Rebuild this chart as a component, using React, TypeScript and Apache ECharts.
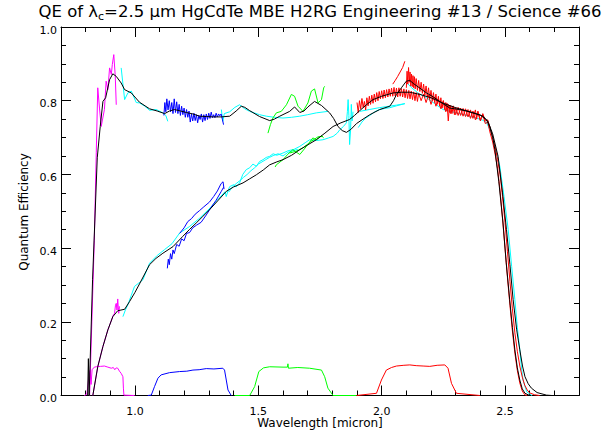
import React, { useEffect, useRef } from "react";
import * as echarts from "echarts";

type P = [number, number];

// ---------- tick values ----------
const xLabelTicks = [1.0, 1.5, 2.0, 2.5];
const xMinorTicks = [0.8, 0.9, 1.1, 1.2, 1.3, 1.4, 1.6, 1.7, 1.8, 1.9, 2.1, 2.2, 2.3, 2.4, 2.6, 2.7];
const yLabelTicks = [0, 0.2, 0.4, 0.6, 0.8, 1.0];
const yMinorTicks = [0.05, 0.1, 0.15, 0.25, 0.3, 0.35, 0.45, 0.5, 0.55, 0.65, 0.7, 0.75, 0.85, 0.9, 0.95];

// ---------- black: smoothed QE curves ----------
const qeUpper: P[] = [
  [0.808, 0], [0.811, 0.1], [0.814, 0], [0.816, 0], [0.828, 0.314], [0.847, 0.645], [0.859, 0.73],
  [0.87, 0.798], [0.881, 0.808], [0.897, 0.857], [0.91, 0.873], [0.924, 0.866], [0.944, 0.848],
  [0.958, 0.83], [0.985, 0.821], [1.018, 0.796], [1.059, 0.778], [1.09, 0.772], [1.12, 0.765],
  [1.14, 0.772], [1.16, 0.776], [1.185, 0.772], [1.208, 0.768], [1.235, 0.764], [1.262, 0.758],
  [1.29, 0.757], [1.315, 0.756], [1.35, 0.756], [1.384, 0.758], [1.41, 0.772], [1.431, 0.785],
  [1.445, 0.782], [1.465, 0.773], [1.505, 0.757], [1.546, 0.746], [1.565, 0.75], [1.587, 0.758],
  [1.627, 0.771], [1.647, 0.783], [1.668, 0.768], [1.685, 0.772], [1.701, 0.783], [1.728, 0.798],
  [1.756, 0.787], [1.789, 0.767], [1.805, 0.752], [1.823, 0.73], [1.84, 0.719], [1.857, 0.714],
  [1.875, 0.722], [1.898, 0.738], [1.92, 0.748], [1.952, 0.762], [1.992, 0.776], [2.033, 0.785],
  [2.048, 0.8], [2.06, 0.817], [2.08, 0.835], [2.1, 0.853], [2.114, 0.855], [2.13, 0.846],
  [2.155, 0.834], [2.182, 0.821], [2.21, 0.81], [2.235, 0.798], [2.276, 0.78], [2.316, 0.776],
  [2.345, 0.772], [2.371, 0.767], [2.411, 0.758], [2.425, 0.748], [2.438, 0.73], [2.45, 0.7],
  [2.459, 0.667], [2.475, 0.58], [2.492, 0.468], [2.505, 0.36], [2.519, 0.26], [2.53, 0.185],
  [2.54, 0.124], [2.55, 0.075], [2.56, 0.042], [2.57, 0.018], [2.581, 0.006], [2.6, 0],
];
const qeLower: P[] = [
  [0.829, 0], [0.849, 0.078], [0.87, 0.133], [0.89, 0.178], [0.91, 0.214], [0.93, 0.23],
  [0.958, 0.234], [0.978, 0.255], [1.0, 0.28], [1.02, 0.305], [1.059, 0.355], [1.085, 0.372],
  [1.113, 0.386], [1.154, 0.404], [1.194, 0.432], [1.22, 0.45], [1.248, 0.468], [1.275, 0.486],
  [1.302, 0.504], [1.335, 0.528], [1.37, 0.554], [1.4, 0.566], [1.438, 0.577], [1.465, 0.588],
  [1.492, 0.599], [1.52, 0.612], [1.546, 0.626], [1.575, 0.634], [1.6, 0.64], [1.635, 0.652],
  [1.668, 0.667], [1.7, 0.68], [1.735, 0.694], [1.77, 0.712], [1.803, 0.73], [1.835, 0.74],
  [1.87, 0.749], [1.89, 0.76], [1.911, 0.773], [1.94, 0.79], [1.965, 0.803], [2.0, 0.812],
  [2.046, 0.821], [2.08, 0.823], [2.114, 0.823], [2.155, 0.817], [2.2, 0.808], [2.25, 0.793],
  [2.3, 0.781], [2.35, 0.771], [2.4, 0.761], [2.43, 0.745], [2.45, 0.71], [2.472, 0.649],
  [2.49, 0.55], [2.506, 0.45], [2.52, 0.355], [2.533, 0.26], [2.547, 0.18], [2.56, 0.124],
  [2.571, 0.08], [2.581, 0.051], [2.594, 0.032], [2.607, 0.02], [2.63, 0.008], [2.668, 0.001], [2.69, 0],
];

// ---------- cyan: second measurement ----------
const cyanUpperA: P[] = [
  [0.944, 0.889], [0.958, 0.803], [0.971, 0.821], [0.985, 0.826], [1.005, 0.795], [1.018, 0.794],
  [1.04, 0.785], [1.059, 0.774], [1.086, 0.776], [1.113, 0.767], [1.125, 0.76], [1.133, 0.744],
];
const cyanUpperB: P[] = [
  [1.35, 0.776], [1.356, 0.744], [1.362, 0.765], [1.384, 0.77], [1.405, 0.782], [1.424, 0.789],
  [1.445, 0.778], [1.465, 0.771], [1.505, 0.762], [1.532, 0.758], [1.565, 0.755], [1.6, 0.753],
  [1.635, 0.755], [1.668, 0.758], [1.7, 0.762], [1.735, 0.767], [1.782, 0.771],
];
const cyanUpperC: P[] = [
  [1.905, 0.727], [1.92, 0.742], [1.935, 0.753], [1.952, 0.76], [1.972, 0.77], [1.992, 0.776],
  [2.012, 0.779], [2.033, 0.781], [2.06, 0.786], [2.094, 0.792],
];
const cyanUpperD: P[] = [
  [1.911, 0.771], [1.95, 0.776], [1.99, 0.781], [2.03, 0.785], [2.06, 0.788], [2.094, 0.792],
];
const cyanUpperE: P[] = [
  [2.1, 0.85], [2.12, 0.836], [2.147, 0.821], [2.182, 0.808], [2.215, 0.792], [2.249, 0.776],
  [2.285, 0.77], [2.316, 0.765], [2.35, 0.759], [2.384, 0.753], [2.41, 0.747], [2.425, 0.74],
  [2.44, 0.72], [2.452, 0.694], [2.465, 0.66], [2.479, 0.622], [2.496, 0.54], [2.513, 0.45],
  [2.527, 0.35], [2.54, 0.26], [2.55, 0.185], [2.56, 0.124], [2.567, 0.075], [2.573, 0.042],
  [2.588, 0.01], [2.609, 0],
];
const cyanLowerA: P[] = [
  [0.951, 0.214], [0.961, 0.232], [0.971, 0.246], [0.985, 0.272], [0.998, 0.296], [1.015, 0.305],
  [1.032, 0.314], [1.059, 0.359], [1.09, 0.38], [1.12, 0.396], [1.15, 0.412], [1.181, 0.441],
  [1.22, 0.458], [1.26, 0.48], [1.3, 0.506], [1.34, 0.535], [1.365, 0.553], [1.37, 0.54],
  [1.377, 0.556], [1.384, 0.567], [1.4, 0.572], [1.41, 0.566], [1.424, 0.577], [1.437, 0.6],
  [1.451, 0.613], [1.465, 0.618], [1.478, 0.628], [1.492, 0.622], [1.505, 0.635], [1.519, 0.64],
  [1.532, 0.646], [1.546, 0.649], [1.56, 0.656], [1.575, 0.652], [1.6, 0.658], [1.62, 0.664],
  [1.645, 0.668], [1.668, 0.676], [1.69, 0.686], [1.708, 0.694], [1.735, 0.692], [1.762, 0.694],
  [1.785, 0.699], [1.803, 0.703], [1.82, 0.712], [1.83, 0.721], [1.845, 0.73], [1.857, 0.74],
  [1.861, 0.77], [1.864, 0.803], [1.867, 0.76], [1.87, 0.681], [1.874, 0.72], [1.877, 0.79],
  [1.88, 0.745], [1.884, 0.77],
];
const cyanLowerB: P[] = [
  [1.38, 0.552], [1.395, 0.566], [1.41, 0.575], [1.425, 0.583], [1.44, 0.592], [1.455, 0.6],
  [1.47, 0.61], [1.485, 0.618], [1.5, 0.628], [1.515, 0.634], [1.53, 0.64], [1.545, 0.646],
  [1.56, 0.651], [1.58, 0.656], [1.6, 0.65], [1.62, 0.66], [1.64, 0.664], [1.66, 0.668],
];

// ---------- magenta: 0.8-1.0 um band ----------
const magentaUpper: P[] = [
  [0.816, 0], [0.825, 0.2], [0.835, 0.42], [0.843, 0.66], [0.849, 0.835], [0.856, 0.78],
  [0.863, 0.73], [0.876, 0.776], [0.883, 0.853], [0.89, 0.83], [0.897, 0.889], [0.904, 0.871],
  [0.908, 0.898], [0.914, 0.925], [0.92, 0.866], [0.924, 0.789],
];
const magentaLower: P[] = [
  [0.829, 0], [0.849, 0.078], [0.87, 0.133], [0.89, 0.178], [0.905, 0.205], [0.912, 0.218],
  [0.917, 0.223], [0.921, 0.245], [0.924, 0.25], [0.927, 0.232], [0.93, 0.262], [0.932, 0.24],
  [0.934, 0.223], [0.937, 0.242],
];
const magentaFilter: P[] = [
  [0.795, 0], [0.805, 0.004], [0.812, 0.045], [0.818, 0.068], [0.822, 0.03], [0.826, 0.07],
  [0.835, 0.077], [0.843, 0.078], [0.86, 0.079], [0.876, 0.08], [0.89, 0.077], [0.904, 0.074],
  [0.912, 0.076], [0.918, 0.07], [0.924, 0.075], [0.93, 0.074], [0.937, 0.066], [0.944, 0.06],
  [0.951, 0.051], [0.953, 0.02], [0.955, 0.001], [0.998, 0],
];

// ---------- blue: 1.0-1.4 um band ----------
const blueUpper: P[] = [
  [1.117, 0.76], [1.121, 0.795], [1.125, 0.77], [1.129, 0.805], [1.134, 0.775], [1.139, 0.8],
  [1.144, 0.77], [1.149, 0.795], [1.154, 0.765], [1.159, 0.805], [1.164, 0.768], [1.169, 0.797],
  [1.174, 0.765], [1.179, 0.79], [1.184, 0.76], [1.189, 0.785], [1.194, 0.762], [1.199, 0.78],
  [1.204, 0.755], [1.209, 0.776], [1.214, 0.755], [1.219, 0.772], [1.224, 0.742], [1.229, 0.764],
  [1.234, 0.745], [1.239, 0.766], [1.244, 0.746], [1.249, 0.762], [1.254, 0.74], [1.259, 0.76],
  [1.264, 0.749], [1.269, 0.764], [1.274, 0.742], [1.279, 0.762], [1.284, 0.746], [1.289, 0.764],
  [1.294, 0.749], [1.299, 0.766], [1.304, 0.752], [1.309, 0.769], [1.314, 0.754], [1.319, 0.762],
  [1.324, 0.754], [1.329, 0.766], [1.334, 0.756], [1.339, 0.764], [1.344, 0.759], [1.349, 0.764],
  [1.354, 0.75], [1.359, 0.735],
];
const blueLowerA: P[] = [
  [1.181, 0.44], [1.199, 0.455], [1.214, 0.472], [1.229, 0.48], [1.244, 0.492], [1.262, 0.502],
  [1.279, 0.512], [1.302, 0.525], [1.319, 0.54], [1.334, 0.555], [1.349, 0.575], [1.357, 0.58], [1.361, 0.56],
];
const blueLowerB: P[] = [
  [1.131, 0.345], [1.135, 0.37], [1.139, 0.355], [1.144, 0.385], [1.149, 0.37], [1.154, 0.395],
  [1.159, 0.385], [1.169, 0.41], [1.179, 0.405], [1.189, 0.425], [1.199, 0.42], [1.209, 0.44],
  [1.221, 0.442], [1.234, 0.455], [1.249, 0.462], [1.268, 0.47], [1.289, 0.49], [1.309, 0.511],
  [1.329, 0.53], [1.349, 0.553], [1.359, 0.565],
];
const blueFilter: P[] = [
  [1.052, 0], [1.066, 0.001], [1.079, 0.024], [1.093, 0.047], [1.106, 0.056], [1.14, 0.062],
  [1.181, 0.065], [1.21, 0.066], [1.235, 0.069], [1.26, 0.07], [1.289, 0.073], [1.32, 0.072],
  [1.356, 0.074], [1.363, 0.069], [1.37, 0.042], [1.377, 0.015], [1.39, 0],
];

// ---------- green: 1.4-1.9 um band ----------
const greenUpper: P[] = [
  [1.539, 0.712], [1.549, 0.735], [1.559, 0.753], [1.573, 0.767], [1.593, 0.771], [1.614, 0.789],
  [1.634, 0.817], [1.647, 0.812], [1.661, 0.785], [1.681, 0.771], [1.701, 0.794], [1.715, 0.826],
  [1.728, 0.832], [1.742, 0.794], [1.756, 0.803], [1.765, 0.835], [1.769, 0.839],
];
const greenLowerA: P[] = [
  [1.568, 0.62], [1.573, 0.626], [1.6, 0.64], [1.62, 0.655], [1.64, 0.667], [1.668, 0.654],
  [1.695, 0.676], [1.721, 0.699], [1.735, 0.694], [1.756, 0.705], [1.765, 0.699],
];
const greenLowerB: P[] = [
  [1.627, 0.658], [1.654, 0.663], [1.681, 0.672], [1.715, 0.69], [1.742, 0.702], [1.762, 0.703],
];
const greenFilter: P[] = [
  [1.404, 0], [1.465, 0], [1.485, 0.024], [1.502, 0.065], [1.521, 0.075], [1.546, 0.078],
  [1.6, 0.077], [1.618, 0.077], [1.62, 0.086], [1.622, 0.074], [1.66, 0.076], [1.708, 0.074],
  [1.756, 0.069], [1.769, 0.051], [1.782, 0.02], [1.803, 0], [1.898, 0],
];

// ---------- red: 1.9-2.6 um band ----------
const redLower: P[] = [
  [1.9, 0.795], [1.905, 0.768], [1.91, 0.8], [1.915, 0.778], [1.92, 0.806], [1.925, 0.782],
  [1.93, 0.798], [1.935, 0.775], [1.94, 0.808], [1.945, 0.786], [1.95, 0.812], [1.955, 0.79],
  [1.96, 0.815], [1.965, 0.793], [1.97, 0.818], [1.975, 0.797], [1.98, 0.822], [1.985, 0.8],
  [1.99, 0.825], [1.995, 0.805], [2.0, 0.827], [2.005, 0.806], [2.01, 0.829], [2.015, 0.808],
  [2.02, 0.83], [2.025, 0.81], [2.03, 0.832], [2.035, 0.812], [2.04, 0.834], [2.045, 0.812],
  [2.05, 0.836], [2.055, 0.813], [2.06, 0.834], [2.065, 0.81], [2.07, 0.835], [2.075, 0.812],
  [2.08, 0.833], [2.085, 0.81], [2.09, 0.832], [2.095, 0.808], [2.1, 0.83], [2.105, 0.806],
  [2.11, 0.828], [2.115, 0.805], [2.12, 0.826], [2.125, 0.803], [2.13, 0.824], [2.135, 0.8],
  [2.14, 0.822], [2.145, 0.798], [2.15, 0.82], [2.16, 0.8], [2.17, 0.818], [2.18, 0.795],
  [2.19, 0.815], [2.2, 0.79], [2.21, 0.81], [2.22, 0.785], [2.23, 0.805], [2.24, 0.778],
  [2.25, 0.8], [2.26, 0.77], [2.265, 0.793], [2.27, 0.745], [2.275, 0.788], [2.28, 0.765],
  [2.29, 0.786], [2.3, 0.762], [2.31, 0.782], [2.32, 0.76], [2.33, 0.779], [2.34, 0.757],
  [2.35, 0.776], [2.36, 0.752], [2.37, 0.772], [2.38, 0.748], [2.39, 0.768], [2.4, 0.745],
  [2.41, 0.762], [2.42, 0.738], [2.43, 0.742], [2.44, 0.712], [2.45, 0.688], [2.46, 0.655],
  [2.47, 0.615], [2.48, 0.555], [2.49, 0.48], [2.5, 0.4], [2.51, 0.32], [2.52, 0.245],
  [2.53, 0.175], [2.54, 0.115], [2.55, 0.068], [2.56, 0.034], [2.57, 0.012], [2.58, 0.002], [2.59, 0],
];
const redUpperRise: P[] = [
  [2.045, 0.845], [2.055, 0.855], [2.065, 0.866], [2.075, 0.878], [2.085, 0.89], [2.094, 0.907],
];
const redUpper: P[] = [
  [2.1, 0.835], [2.103, 0.88], [2.106, 0.845], [2.109, 0.89], [2.112, 0.85], [2.115, 0.878],
  [2.118, 0.84], [2.121, 0.872], [2.124, 0.838], [2.127, 0.868], [2.13, 0.835], [2.133, 0.865],
  [2.136, 0.832], [2.14, 0.86], [2.145, 0.828], [2.15, 0.855], [2.155, 0.825], [2.16, 0.85],
  [2.165, 0.82], [2.17, 0.845], [2.175, 0.815], [2.18, 0.84], [2.185, 0.81], [2.19, 0.835],
  [2.195, 0.805], [2.2, 0.828], [2.205, 0.8], [2.21, 0.822], [2.215, 0.795], [2.22, 0.818],
  [2.225, 0.79], [2.23, 0.812], [2.235, 0.785], [2.24, 0.808], [2.245, 0.78], [2.25, 0.8],
  [2.255, 0.776], [2.26, 0.795], [2.265, 0.772], [2.27, 0.79], [2.275, 0.768], [2.28, 0.787],
  [2.285, 0.765], [2.29, 0.784], [2.295, 0.762], [2.3, 0.782], [2.31, 0.76], [2.32, 0.78],
  [2.33, 0.758], [2.34, 0.778], [2.35, 0.756], [2.36, 0.775], [2.37, 0.752], [2.38, 0.775],
  [2.385, 0.75], [2.39, 0.772], [2.4, 0.748], [2.41, 0.765], [2.42, 0.745], [2.43, 0.748],
  [2.44, 0.725], [2.45, 0.7], [2.46, 0.675], [2.47, 0.64], [2.48, 0.6], [2.49, 0.54],
  [2.5, 0.47], [2.51, 0.39], [2.52, 0.31], [2.53, 0.235], [2.54, 0.17], [2.55, 0.12],
  [2.56, 0.08], [2.57, 0.05], [2.58, 0.028], [2.59, 0.015], [2.6, 0.007], [2.62, 0.002], [2.64, 0],
];
const redFilter: P[] = [
  [1.898, 0], [1.979, 0.006], [1.999, 0.042], [2.019, 0.069], [2.04, 0.076], [2.06, 0.08],
  [2.09, 0.082], [2.114, 0.083], [2.14, 0.081], [2.168, 0.08], [2.195, 0.079], [2.225, 0.082],
  [2.256, 0.083], [2.269, 0.074], [2.283, 0.033], [2.303, 0.006], [2.398, 0],
];

const FONT = '"DejaVu Sans", sans-serif';

function measure(text: string, size: number): number {
  const ctx = document.createElement("canvas").getContext("2d");
  if (!ctx) return text.length * size * 0.6;
  ctx.font = `${size}px "DejaVu Sans"`;
  return ctx.measureText(text).width;
}

function line(data: P[], color: string) {
  return {
    type: "line",
    data,
    xAxisIndex: 0,
    yAxisIndex: 0,
    symbol: "none",
    showSymbol: false,
    silent: true,
    lineStyle: { width: 1, color },
    itemStyle: { color },
  };
}

function xAx(position: string, ticks: number[], len: number, showLine: boolean, labels: boolean) {
  return {
    type: "value",
    min: 0.7,
    max: 2.8,
    position,
    axisLine: { show: showLine, onZero: false, lineStyle: { color: "#000", width: 1 } },
    axisTick: { show: true, inside: true, length: len, customValues: ticks, lineStyle: { color: "#000", width: 1 } },
    axisLabel: labels
      ? {
          show: true,
          customValues: xLabelTicks,
          formatter: (v: number) => v.toFixed(1),
          color: "#000",
          fontSize: 11,
          fontFamily: FONT,
          margin: 10,
        }
      : { show: false },
    splitLine: { show: false },
  };
}

function yAx(position: string, ticks: number[], len: number, showLine: boolean, labels: boolean) {
  return {
    type: "value",
    min: 0,
    max: 1,
    position,
    axisLine: { show: showLine, onZero: false, lineStyle: { color: "#000", width: 1 } },
    axisTick: { show: true, inside: true, length: len, customValues: ticks, lineStyle: { color: "#000", width: 1 } },
    axisLabel: labels
      ? {
          show: true,
          customValues: yLabelTicks,
          formatter: (v: number) => `{t|${v.toFixed(1)}}`,
          rich: { t: { fontSize: 11, fontFamily: FONT, color: "#000", padding: [6, 0, 0, 0] } },
          color: "#000",
          fontSize: 11,
          fontFamily: FONT,
          margin: 4,
        }
      : { show: false },
    splitLine: { show: false },
  };
}

export default function App() {
  const ref = useRef<HTMLDivElement>(null);
  useEffect(() => {
    if (!ref.current) return;
    const chart = echarts.init(ref.current, null, { renderer: "svg" });

    const mainSize = 16.5;
    const subSize = 11;
    const tA = "QE of \u03bb";
    const tB = "c";
    const tC = "=2.5 \u03bcm HgCdTe MBE H2RG Engineering #13 / Science #66";
    const wA = measure(tA, mainSize);
    const wB = measure(tB, subSize);
    const wC = measure(tC, mainSize);
    const total = wA + wB + wC;
    const cx = 320;
    const x0 = cx - total / 2;
    const ty = 11.5;

    chart.setOption({
      animation: false,
      backgroundColor: "#fff",
      grid: { left: 61, right: 34, top: 27, bottom: 42.5, containLabel: false },
      xAxis: [
        xAx("bottom", xLabelTicks, 10, true, true),
        xAx("bottom", xMinorTicks, 5, false, false),
        xAx("top", xLabelTicks, 10, true, false),
        xAx("top", xMinorTicks, 5, false, false),
      ],
      yAxis: [
        yAx("left", yLabelTicks, 10, true, true),
        yAx("left", yMinorTicks, 5, false, false),
        yAx("right", yLabelTicks, 10, true, false),
        yAx("right", yMinorTicks, 5, false, false),
      ],
      graphic: [
        { type: "text", x: x0, y: ty, style: { text: tA, fontSize: mainSize, fontFamily: FONT, fill: "#000", align: "left", verticalAlign: "middle" } },
        { type: "text", x: x0 + wA, y: ty + 5, style: { text: tB, fontSize: subSize, fontFamily: FONT, fill: "#000", align: "left", verticalAlign: "middle" } },
        { type: "text", x: x0 + wA + wB, y: ty, style: { text: tC, fontSize: mainSize, fontFamily: FONT, fill: "#000", align: "left", verticalAlign: "middle" } },
        { type: "text", x: 320, y: 423, style: { text: "Wavelength [micron]", fontSize: 12, fontFamily: FONT, fill: "#000", align: "center", verticalAlign: "middle" } },
        { type: "text", x: 24, y: 212, rotation: Math.PI / 2, style: { text: "Quantum Efficiency", fontSize: 12, fontFamily: FONT, fill: "#000", align: "center", verticalAlign: "middle" } },
      ],
      series: [
        line(cyanUpperA, "#00ffff"),
        line(cyanUpperB, "#00ffff"),
        line(cyanUpperC, "#00ffff"),
        line(cyanUpperD, "#00ffff"),
        line(cyanUpperE, "#00ffff"),
        line(cyanLowerA, "#00ffff"),
        line(cyanLowerB, "#00ffff"),
        line(magentaUpper, "#ff00ff"),
        line(magentaLower, "#ff00ff"),
        line(magentaFilter, "#ff00ff"),
        line(blueUpper, "#0000ff"),
        line(blueLowerA, "#0000ff"),
        line(blueLowerB, "#0000ff"),
        line(blueFilter, "#0000ff"),
        line(greenUpper, "#00ff00"),
        line(greenLowerA, "#00ff00"),
        line(greenLowerB, "#00ff00"),
        line(greenFilter, "#00ff00"),
        line(redLower, "#ff0000"),
        line(redUpperRise, "#ff0000"),
        line(redUpper, "#ff0000"),
        line(redFilter, "#ff0000"),
        line(qeUpper, "#000000"),
        line(qeLower, "#000000"),
      ],
    });
    return () => chart.dispose();
  }, []);
  return (
    <div
      ref={ref}
      style={{ position: "absolute", left: 0, top: 0, width: 613, height: 438, background: "#fff" }}
    />
  );
}
